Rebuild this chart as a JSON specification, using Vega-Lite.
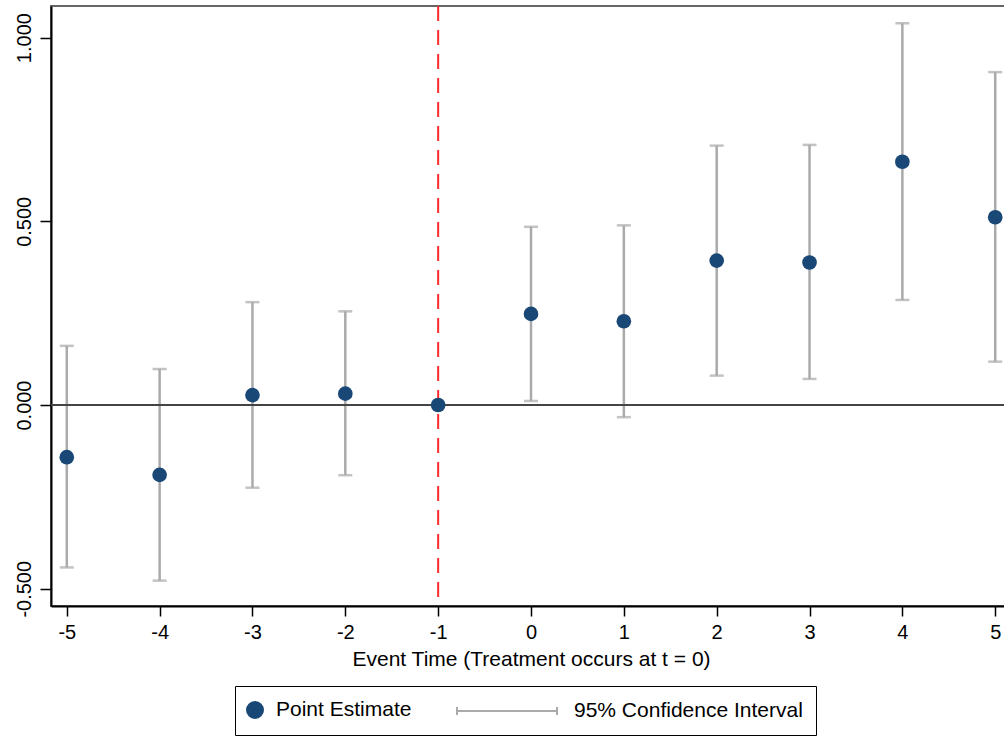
{
  "$schema": "https://vega.github.io/schema/vega-lite/v6.json",
  "width": 960,
  "height": 600,
  "autosize": {"type": "none"},
  "padding": {"left": 51, "top": 6, "right": 0, "bottom": 133},
  "background": "white",
  "config": {
    "font": "Liberation Sans",
    "view": {"stroke": "#666", "strokeWidth": 2},
    "axis": {"grid": false, "domainColor": "black", "domainWidth": 2, "tickColor": "black", "tickWidth": 1.5, "labelColor": "black", "titleColor": "black", "labelFont": "Liberation Sans", "titleFont": "Liberation Sans"}
  },
  "data": {
    "values": [
      {"t": -5, "est": -0.142, "lo": -0.442, "hi": 0.161},
      {"t": -4, "est": -0.190, "lo": -0.478, "hi": 0.098},
      {"t": -3, "est": 0.027, "lo": -0.225, "hi": 0.280},
      {"t": -2, "est": 0.031, "lo": -0.191, "hi": 0.255},
      {"t": -1, "est": 0.0, "lo": null, "hi": null},
      {"t": 0, "est": 0.248, "lo": 0.011, "hi": 0.485},
      {"t": 1, "est": 0.228, "lo": -0.033, "hi": 0.489},
      {"t": 2, "est": 0.393, "lo": 0.080, "hi": 0.706},
      {"t": 3, "est": 0.388, "lo": 0.071, "hi": 0.708},
      {"t": 4, "est": 0.662, "lo": 0.286, "hi": 1.039},
      {"t": 5, "est": 0.511, "lo": 0.118, "hi": 0.906}
    ]
  },
  "layer": [
    {
      "data": {"values": [{"ref": -1}]},
      "mark": {"type": "rule", "stroke": "#ff2b2b", "strokeWidth": 2, "strokeDash": [15, 9]},
      "encoding": {
        "x": {"field": "ref", "type": "quantitative", "scale": {"domain": [-5.17, 5.17], "nice": false, "zero": false}}
      }
    },
    {
      "transform": [{"filter": "datum.lo != null"}],
      "mark": {"type": "errorbar", "thickness": 2.5, "ticks": {"size": 14, "thickness": 2.5}},
      "encoding": {
        "x": {"field": "t", "type": "quantitative", "scale": {"domain": [-5.17, 5.17], "nice": false, "zero": false},
          "axis": {"values": [-5, -4, -3, -2, -1, 0, 1, 2, 3, 4, 5], "labelExpr": "'' + datum.value", "title": "Event Time (Treatment occurs at t = 0)", "labelFontSize": 20, "titleFontSize": 21, "titleFontWeight": "normal", "tickSize": 10, "labelPadding": 6, "titlePadding": 6}},
        "y": {"field": "lo", "type": "quantitative", "scale": {"domain": [-0.547, 1.086], "nice": false, "zero": false},
          "axis": {"values": [-0.5, 0, 0.5, 1], "labelExpr": "(datum.value < 0 ? '-' : '') + format(abs(datum.value), '.3f')", "title": null, "labelAngle": -90, "labelAlign": "center", "labelBaseline": "bottom", "labelFontSize": 20, "tickSize": 11, "labelPadding": 6}},
        "y2": {"field": "hi"},
        "color": {"datum": "95% Confidence Interval", "type": "nominal",
          "scale": {"domain": ["Point Estimate", "95% Confidence Interval"], "range": ["#1a4876", "#aaaaaa"]},
          "legend": {
            "title": null, "orient": "none", "legendX": 184, "legendY": 680, "direction": "horizontal", "columns": 2,
            "symbolSize": 400, "labelFontSize": 21, "labelColor": "black", "labelFont": "Liberation Sans", "labelLimit": 500,
            "labelExpr": "datum.label === '95% Confidence Interval' ? datum.label + '\u00a0\u00a0\u00a0\u00a0\u00a0\u00a0' : datum.label",
            "labelOffset": 6, "columnPadding": 41, "padding": 13, "strokeColor": "black",
            "encode": {
              "symbols": {
                "update": {
                  "shape": {"signal": "datum.value === 'Point Estimate' ? 'M-1.2,0A0.8,0.8 0 1,1 0.4,0A0.8,0.8 0 1,1 -1.2,0Z' : 'M-10,0H0M-10,-0.4V0.4M0,-0.4V0.4'"},
                  "fill": {"signal": "datum.value === 'Point Estimate' ? '#1a4876' : 'transparent'"},
                  "stroke": {"signal": "datum.value === 'Point Estimate' ? 'transparent' : '#aaaaaa'"},
                  "strokeWidth": {"value": 2},
                  "opacity": {"value": 1}
                }
              }
            }
          }
        }
      }
    },
    {
      "data": {"values": [{"zero": 0}]},
      "mark": {"type": "rule", "stroke": "#444", "strokeWidth": 2},
      "encoding": {
        "y": {"field": "zero", "type": "quantitative"}
      }
    },
    {
      "mark": {"type": "circle", "size": 215, "opacity": 1},
      "encoding": {
        "x": {"field": "t", "type": "quantitative"},
        "y": {"field": "est", "type": "quantitative"},
        "color": {"datum": "Point Estimate", "type": "nominal"}
      }
    }
  ]
}
